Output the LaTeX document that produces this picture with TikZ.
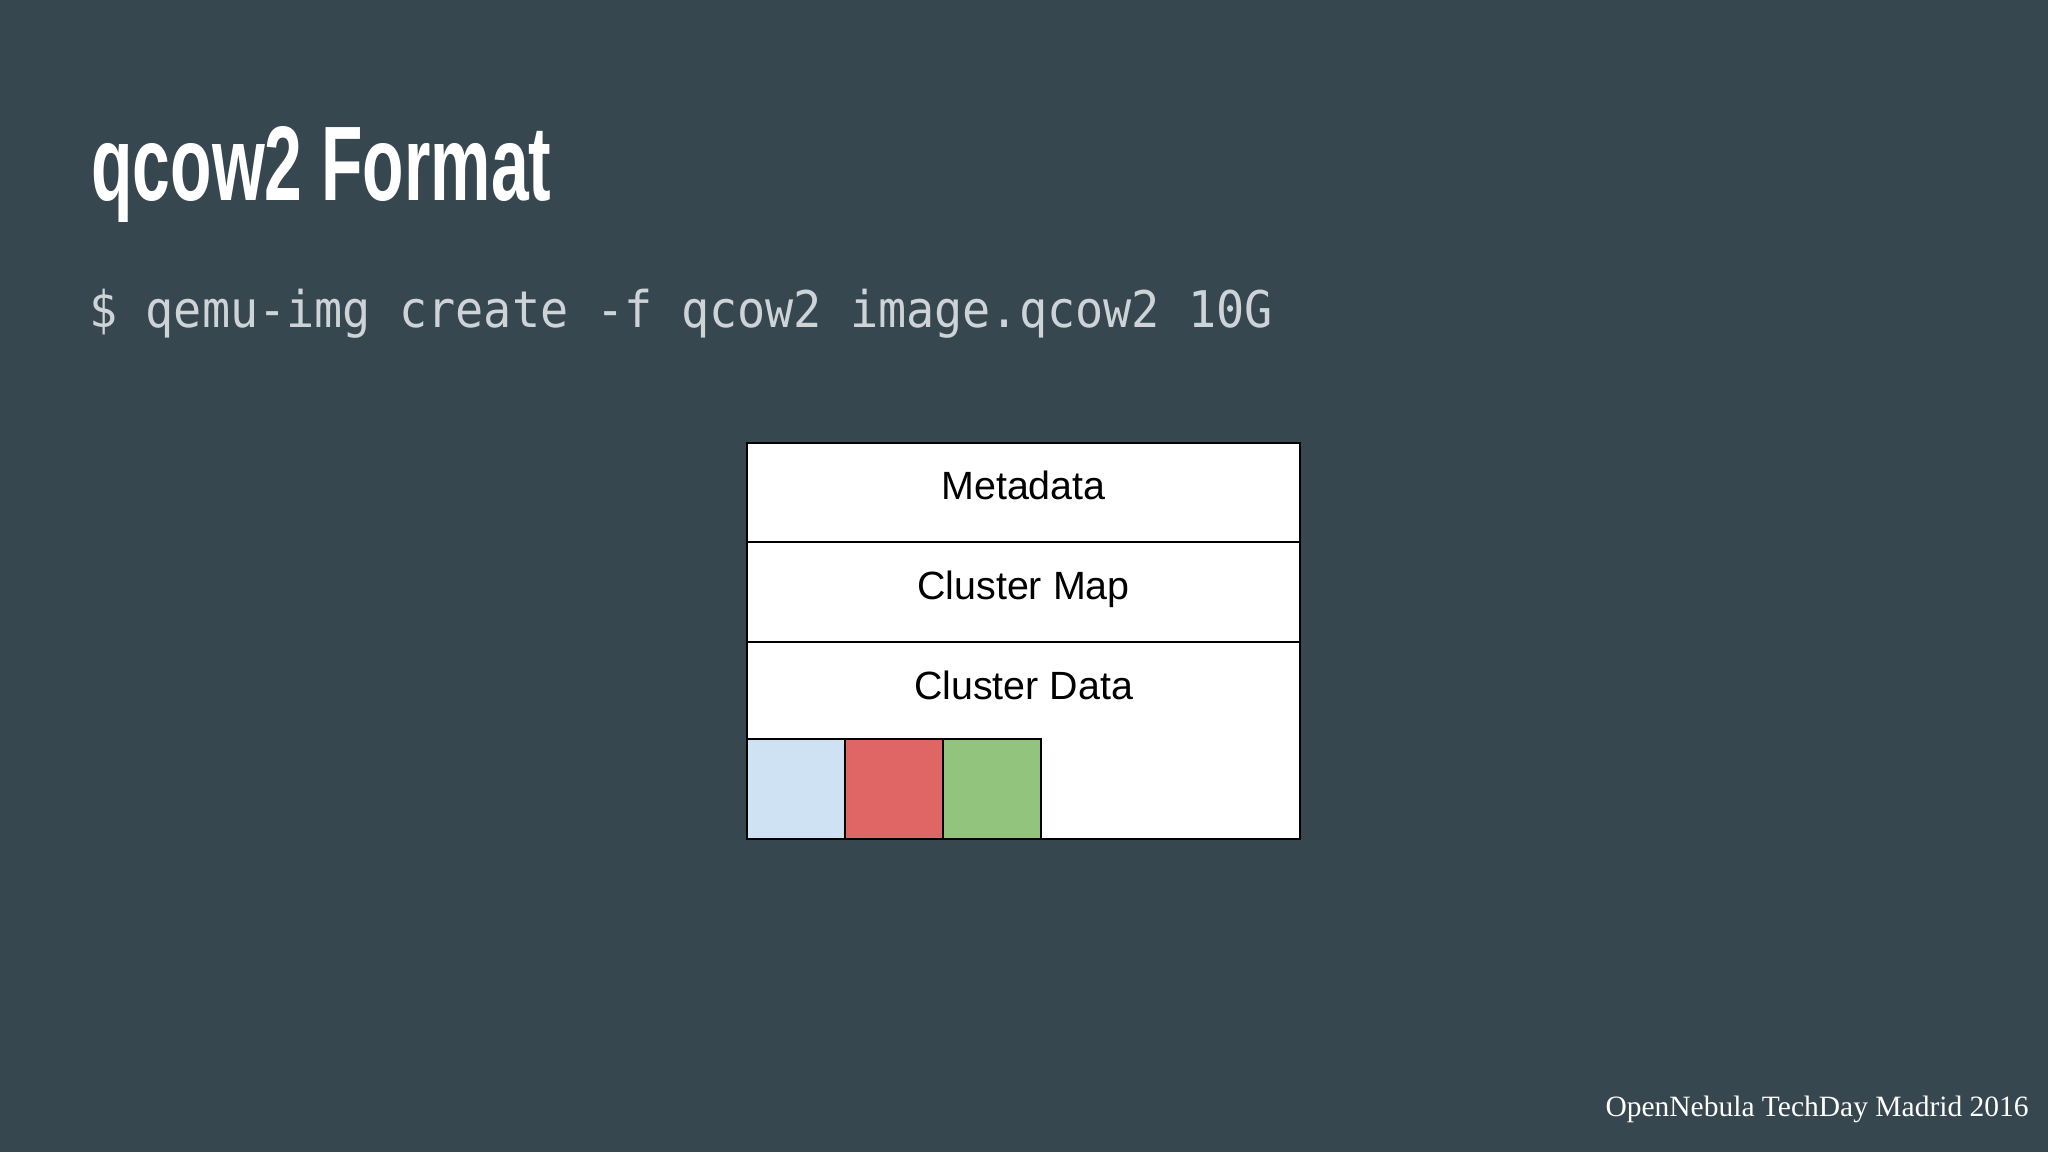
\documentclass[tikz,border=0pt]{standalone}
\usepackage{fontspec}
\setmainfont{Liberation Serif}
\newfontfamily\boxfont{Liberation Sans}
\newfontfamily\titlefont{Liberation Sans}
\newfontfamily\codefont{DejaVu Sans Mono}
\definecolor{bgslate}{HTML}{37474F}
\definecolor{codegray}{HTML}{CDD3D6}
\definecolor{cellblue}{HTML}{CFE2F3}
\definecolor{cellred}{HTML}{E06666}
\definecolor{cellgreen}{HTML}{93C47D}
\tikzset{
  rowbox/.style={draw=black, line width=1pt, fill=white, anchor=north west, inner sep=0pt, outer sep=0pt},
  cellbox/.style={draw=black, line width=1pt, anchor=north west, inner sep=0pt, outer sep=0pt, minimum width=49pt, minimum height=50pt},
  rowlabel/.style={anchor=base, inner sep=0pt, font=\boxfont\fontsize{19.7pt}{22pt}\selectfont, text=black},
}
\begin{document}
\begin{tikzpicture}[x=0.5pt,y=-0.5pt]
\fill[bgslate] (0,0) rectangle (2048,1152);
\useasboundingbox (0,0) rectangle (2048,1152);

% title
\node[anchor=base west, inner sep=0pt, text=white] (title) at (91,200)
  {\resizebox{230pt}{37pt}{\titlefont\bfseries qcow2 Format}};

% command
\node[anchor=base west, inner sep=0pt, text=codegray] (cmd) at (89,327)
  {\scalebox{1}[1.08]{\codefont\fontsize{23.4pt}{26pt}\selectfont \$ qemu-img create -f qcow2 image.qcow2 10G}};

% structure box
\node[rowbox, minimum width=276.5pt, minimum height=49.5pt] (meta) at (747,443) {};
\node[rowbox, minimum width=276.5pt, minimum height=50pt] (cmap) at (747,542) {};
\node[rowbox, minimum width=276.5pt, minimum height=98.5pt] (cdata) at (747,642) {};

\node[rowlabel] (metat) at (1023.5,499) {Metadata};
\node[rowlabel] (cmapt) at (1023.5,599) {Cluster Map};
\node[rowlabel] (cdatat) at (1023.5,699) {Cluster Data};

\node[cellbox, fill=cellblue] (sq1) at (747,739) {};
\node[cellbox, fill=cellred] (sq2) at (845,739) {};
\node[cellbox, fill=cellgreen] (sq3) at (943,739) {};

% footer
\node[anchor=base east, inner sep=0pt, text=white, font=\fontsize{14.75pt}{17pt}\selectfont] (footer) at (2029,1116)
  {OpenNebula TechDay Madrid 2016};
\end{tikzpicture}
\end{document}
